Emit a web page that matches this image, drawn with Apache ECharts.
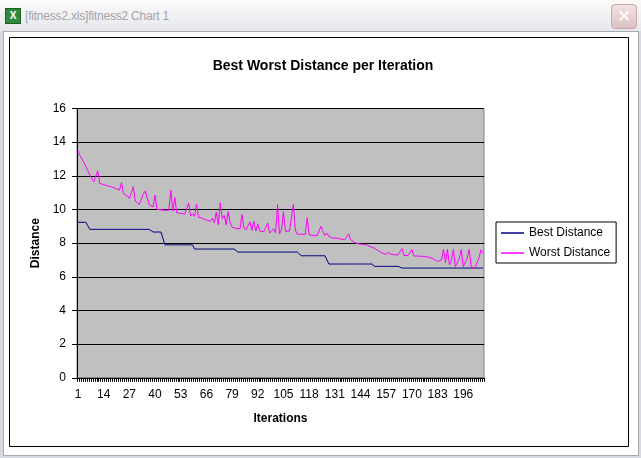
<!DOCTYPE html>
<html>
<head>
<meta charset="utf-8">
<script src="https://cdn.jsdelivr.net/npm/echarts@6/dist/echarts.min.js"></script>
<style>
    html, body { margin: 0; padding: 0; }
    body { width: 641px; height: 458px; position: relative; overflow: hidden; background: #d6d9e0; font-family: "Liberation Sans", Arial, sans-serif; }
    #titleBar { position: absolute; left: 0; top: 0; width: 641px; height: 31px; background: linear-gradient(#fbfbfc, #e6e7ec); }
    #appIcon { position: absolute; left: 5px; top: 8px; width: 14px; height: 14px; background: #2f8a3a; border: 1px solid #1d5e25; color: #fff; font: bold 10px "Liberation Sans", Arial; text-align: center; line-height: 14px; }
    #winTitle { position: absolute; left: 25px; top: 9px; color: #a3a3a8; font: 12px "Liberation Sans", Arial; letter-spacing: -0.2px; }
    #closeBtn { position: absolute; left: 611px; top: 4px; width: 24px; height: 23px; border: 1px solid #c9a6a6; border-radius: 4px; background: linear-gradient(#f3e3e3, #dcc0c0); color: #fff; font: bold 17px "DejaVu Sans", sans-serif; text-align: center; line-height: 23px; }
    #client { position: absolute; left: 3px; top: 31px; width: 634px; height: 423px; background: #fff; border: 1px solid #a8abb3; }
    #chart { position: absolute; left: 0; top: 0; width: 641px; height: 458px; }
</style>
</head>
<body>
<div id="titleBar">
    <div id="appIcon">X</div>
    <div id="winTitle">[fitness2.xls]fitness2 Chart 1</div>
    <div id="closeBtn">✕</div>
</div>
<div id="client"></div>
<div id="chart"></div>
<script>
// 迭代次数
const ITERATION_COUNT = 206;
const iterations = Array.from({ length: ITERATION_COUNT }, (v, i) => String(i + 1));

// 最佳距离 (阶梯)
const bestDistance = [
    9.24, 9.24, 9.24, 9.24, 9.24, 9.24, 8.82, 8.82, 8.82, 8.82,
    8.82, 8.82, 8.82, 8.82, 8.82, 8.82, 8.82, 8.82, 8.82, 8.82,
    8.82, 8.82, 8.82, 8.82, 8.82, 8.82, 8.82, 8.82, 8.82, 8.82,
    8.82, 8.82, 8.82, 8.82, 8.82, 8.82, 8.82, 8.82, 8.66, 8.66,
    8.66, 8.66, 8.66, 8.66, 7.9, 7.9, 7.9, 7.9, 7.9, 7.9,
    7.9, 7.9, 7.9, 7.9, 7.9, 7.9, 7.9, 7.9, 7.9, 7.65,
    7.65, 7.65, 7.65, 7.65, 7.65, 7.65, 7.65, 7.65, 7.65, 7.65,
    7.65, 7.65, 7.65, 7.65, 7.65, 7.65, 7.65, 7.65, 7.65, 7.65,
    7.65, 7.47, 7.47, 7.47, 7.47, 7.47, 7.47, 7.47, 7.47, 7.47,
    7.47, 7.47, 7.47, 7.47, 7.47, 7.47, 7.47, 7.47, 7.47, 7.47,
    7.47, 7.47, 7.47, 7.47, 7.47, 7.47, 7.47, 7.47, 7.47, 7.47,
    7.47, 7.47, 7.47, 7.25, 7.25, 7.25, 7.25, 7.25, 7.25, 7.25,
    7.25, 7.25, 7.25, 7.25, 7.25, 7.25, 7.25, 6.76, 6.76, 6.76,
    6.76, 6.76, 6.76, 6.76, 6.76, 6.76, 6.76, 6.76, 6.76, 6.76,
    6.76, 6.76, 6.76, 6.76, 6.76, 6.76, 6.76, 6.76, 6.76, 6.76,
    6.62, 6.62, 6.62, 6.62, 6.62, 6.62, 6.62, 6.62, 6.62, 6.62,
    6.62, 6.62, 6.62, 6.52, 6.52, 6.52, 6.52, 6.52, 6.52, 6.52,
    6.52, 6.52, 6.52, 6.52, 6.52, 6.52, 6.52, 6.52, 6.52, 6.52,
    6.52, 6.52, 6.52, 6.52, 6.52, 6.52, 6.52, 6.52, 6.52, 6.52,
    6.52, 6.52, 6.52, 6.52, 6.52, 6.52, 6.52, 6.52, 6.52, 6.52,
    6.52, 6.52, 6.52, 6.52, 6.52, 6.52
];

// 最差距离
const worstDistance = [
    13.5, 13.2, 13.0, 12.8, 12.55, 12.3, 12.05, 11.85, 11.65, 11.6,
    12.3, 11.55, 11.5, 11.48, 11.45, 11.4, 11.38, 11.35, 11.3, 11.25,
    11.2, 11.15, 11.6, 10.95, 10.85, 10.8, 10.65, 10.55, 11.35, 10.5,
    10.4, 10.3, 10.25, 10.9, 11.1, 11.15, 10.3, 10.2, 10.15, 10.85,
    10.0, 10.0, 9.98, 9.95, 9.95, 9.94, 9.95, 11.15, 9.9, 10.7,
    9.8, 9.8, 9.78, 9.77, 9.72, 9.7, 10.38, 9.62, 9.75, 9.6,
    10.33, 9.53, 9.5, 9.48, 9.4, 9.38, 9.32, 9.3, 9.48, 9.2,
    9.85, 9.1, 10.4, 9.45, 9.65, 9.1, 9.88, 9.2, 8.95, 8.9,
    8.88, 8.87, 8.85, 9.7, 8.9, 8.78, 8.76, 9.27, 8.75, 9.3,
    8.72, 9.15, 8.72, 8.7, 8.68, 8.66, 9.2, 8.6, 8.7, 8.85,
    8.6, 10.3, 8.55, 8.8, 9.86, 8.7, 8.7, 8.72, 8.78, 10.3,
    8.78, 8.53, 8.53, 8.53, 8.52, 8.52, 9.5, 8.5, 8.48, 8.46,
    8.45, 8.44, 8.43, 9.0, 8.7, 8.45, 8.6, 8.4, 8.3, 8.3,
    8.28, 8.3, 8.35, 8.25, 8.22, 8.2, 8.2, 8.55, 8.2, 8.1,
    8.04, 8.0, 7.96, 7.94, 7.92, 7.91, 7.9, 7.85, 7.8, 7.75,
    7.7, 7.62, 7.55, 7.48, 7.4, 7.35, 7.33, 7.47, 7.35, 7.32,
    7.31, 7.3, 7.3, 7.28, 7.67, 7.27, 7.27, 7.26, 7.26, 7.62,
    7.24, 7.23, 7.23, 7.22, 7.22, 7.21, 7.2, 7.18, 7.15, 7.1,
    7.05, 7.0, 6.92, 6.9, 7.0, 7.63, 6.85, 7.63, 6.7, 7.0,
    7.63, 6.6, 6.6, 7.1, 7.63, 6.6, 6.6, 7.1, 7.63, 6.6,
    6.55, 6.52, 6.55, 7.15, 7.6, 7.4
];

const FONT = '"Liberation Sans", Arial, sans-serif';

const chart = echarts.init(document.getElementById('chart'));
chart.setOption({
    animation: false,
    title: {
        text: 'Best Worst Distance per Iteration',
        left: 318,
        top: 54,
        textAlign: 'center',
        textStyle: { fontFamily: FONT, fontSize: 14, fontWeight: 'bold', color: '#000' }
    },
    graphic: [{
        type: 'rect',
        shape: { x: 9.5, y: 37.5, width: 619, height: 409 },
        style: { fill: null, stroke: '#000', lineWidth: 1 },
        silent: true
    }],
    legend: {
        orient: 'vertical',
        left: 496,
        top: 222,
        padding: [4, 6, 3, 5],
        icon: 'rect',
        itemWidth: 23,
        itemHeight: 1.5,
        itemGap: 6,
        borderColor: '#000',
        borderWidth: 1,
        backgroundColor: '#fff',
        textStyle: { fontFamily: FONT, fontSize: 12, lineHeight: 14, color: '#000' },
        data: ['Best Distance', 'Worst Distance']
    },
    grid: {
        left: 77,
        top: 108.5,
        width: 407,
        height: 269.3,
        show: true,
        backgroundColor: '#c0c0c0',
        borderColor: '#808080',
        borderWidth: 1
    },
    xAxis: {
        type: 'category',
        boundaryGap: true,
        data: iterations,
        name: 'Iterations',
        nameLocation: 'middle',
        nameGap: 35,
        nameTextStyle: { fontFamily: FONT, fontSize: 12, fontWeight: 'bold', color: '#000' },
        axisLine: { lineStyle: { color: '#000', width: 1 } },
        axisTick: { show: true, interval: 0, length: 4, lineStyle: { color: '#000' } },
        axisLabel: { interval: 12, margin: 11, fontFamily: FONT, fontSize: 12, color: '#000' },
        splitLine: { show: false }
    },
    yAxis: {
        type: 'value',
        min: 0,
        max: 16,
        interval: 2,
        name: 'Distance',
        nameLocation: 'middle',
        nameGap: 34,
        nameRotate: 90,
        nameTextStyle: { fontFamily: FONT, fontSize: 12, fontWeight: 'bold', color: '#000' },
        axisLine: { show: true, lineStyle: { color: '#000', width: 1 } },
        axisTick: { show: true, length: 5, lineStyle: { color: '#000' } },
        axisLabel: { margin: 11, fontFamily: FONT, fontSize: 12, color: '#000' },
        splitLine: { show: true, lineStyle: { color: '#000', width: 1 } }
    },
    series: [{
        name: 'Best Distance',
        type: 'line',
        symbol: 'none',
        data: bestDistance,
        lineStyle: { color: '#000080', width: 1 },
        itemStyle: { color: '#000080' }
    }, {
        name: 'Worst Distance',
        type: 'line',
        symbol: 'none',
        data: worstDistance,
        lineStyle: { color: '#ff00ff', width: 1 },
        itemStyle: { color: '#ff00ff' }
    }]
});
</script>
</body>
</html>
